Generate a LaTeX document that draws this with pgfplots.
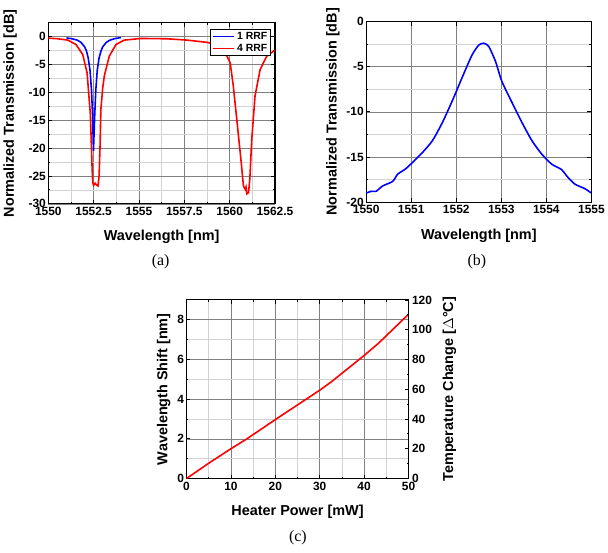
\documentclass[border=0pt]{standalone}
\usepackage{pgfplots}
\pgfplotsset{compat=1.18}
\usepackage{fontspec}
\setmainfont{Liberation Sans}
\newfontfamily\timesf{Liberation Serif}
\definecolor{majgrid}{RGB}{128,128,128}
\definecolor{mingrid}{RGB}{210,210,210}
\definecolor{myblue}{RGB}{0,0,255}
\definecolor{myred}{RGB}{255,0,0}
\pgfplotsset{
  mystyle/.style={
    scale only axis,
    axis line style={line width=1.1pt},
    grid=both,
    major grid style={majgrid,line width=0.6pt},
    minor grid style={mingrid,line width=0.6pt},
    tick style={black,line width=0.8pt},
    major tick length=4pt, minor tick length=2pt,
    tick align=inside,
    /pgf/number format/assume math mode=true,
    /pgf/number format/1000 sep={},
    ticklabel style={font=\bfseries\fontsize{12}{13}\selectfont},
    label style={font=\bfseries\fontsize{14.5}{16}\selectfont},
    xticklabel style={yshift=0pt},
    yticklabel style={xshift=1pt},
    xlabel style={yshift=-8pt},
  }
}
\begin{document}
\begin{tikzpicture}
\path (0pt,0pt) rectangle (608pt,-556pt);
% ---------- (a)
\begin{axis}[mystyle,
  at={(47pt,-205pt)}, anchor=south west,
  width=228pt, height=182pt,
  xmin=1550, xmax=1562.5, ymin=-30, ymax=2.5,
  xtick={1550,1552.5,1555,1557.5,1560,1562.5},
  xticklabels={1550,1552.5,1555,1557.5,1560,1562.5},
  ytick={-30,-25,-20,-15,-10,-5,0},
  minor x tick num=1, minor y tick num=1,
  xlabel={Wavelength [nm]}, ylabel={Normalized Transmission [dB]},
  ylabel style={yshift=5pt},
  legend style={at={(rel axis cs:0.982,0.967)}, anchor=north east, draw=black, line width=1.1pt,
    font=\bfseries\fontsize{10.5}{11}\selectfont, inner sep=1pt, row sep=-1pt},
  legend cell align=left,
  legend image code/.code={\draw[#1] (0pt,0pt) -- (22pt,0pt);},
]
\addplot[myblue, line width=1.6pt] coordinates {
(1551.0,-0.2) (1551.3,-0.35) (1551.6,-0.6) (1551.8,-1.0) (1552.0,-1.8) (1552.1,-2.5)
(1552.2,-3.8) (1552.3,-6.0) (1552.38,-9.5) (1552.44,-14) (1552.49,-20.5)
(1552.56,-14) (1552.62,-9.5) (1552.7,-6.0) (1552.8,-3.8) (1552.9,-2.6) (1553.0,-1.8)
(1553.2,-1.0) (1553.4,-0.6) (1553.7,-0.3) (1554.0,-0.15)};
\addlegendentry{1 RRF}
\addplot[myred, line width=1.6pt] coordinates {
(1550,-0.25) (1550.5,-0.35) (1551.08,-0.6) (1551.53,-1.4) (1551.9,-3.2) (1552.14,-6.5)
(1552.32,-14) (1552.42,-24) (1552.45,-26.2) (1552.5,-26.7) (1552.58,-26.3) (1552.66,-26.6)
(1552.74,-26.8) (1552.8,-25) (1552.85,-20) (1552.9,-13) (1553.0,-9.2) (1553.09,-7)
(1553.36,-3.5) (1553.73,-1.4) (1554.18,-0.6) (1555.1,-0.3) (1556.56,-0.36) (1557.66,-0.6)
(1558.75,-1.0) (1559.3,-1.4) (1559.7,-2.4) (1560.03,-4.7) (1560.2,-8.8) (1560.43,-16)
(1560.62,-22) (1560.76,-26.8) (1560.86,-27.4) (1560.9,-27.0) (1560.95,-28.2) (1561.04,-28.0)
(1561.11,-25.6) (1561.22,-18.4) (1561.4,-10.6) (1561.68,-5.9) (1562.04,-3.5) (1562.5,-2.4)};
\addlegendentry{4 RRF}
\end{axis}
% ---------- (b)
\begin{axis}[mystyle,
  at={(366.7pt,-203.3pt)}, anchor=south west,
  width=226.6pt, height=181.6pt,
  xmin=1550, xmax=1555, ymin=-20, ymax=0,
  xtick={1550,...,1555}, ytick={-20,-15,-10,-5,0},
  minor x tick num=1, minor y tick num=1,
  xlabel={Wavelength [nm]}, ylabel={Normalized Transmission [dB]},
]
\addplot[myblue, line width=1.6pt, smooth, tension=0.4] coordinates {
(1550,-19.0) (1550.11,-18.8) (1550.22,-18.8) (1550.37,-18.2) (1550.59,-17.7) (1550.7,-16.9)
(1550.88,-16.3) (1551.07,-15.4) (1551.25,-14.5) (1551.47,-13.2) (1551.69,-11.2) (1551.91,-8.8)
(1552.13,-6.2) (1552.35,-3.7) (1552.5,-2.6) (1552.61,-2.4) (1552.72,-2.75) (1552.87,-4.4)
(1553.01,-6.6) (1553.24,-9.0) (1553.46,-11.2) (1553.68,-13.2) (1553.9,-14.7) (1554.12,-15.8)
(1554.34,-16.4) (1554.45,-17.1) (1554.63,-18.0) (1554.85,-18.5) (1555,-19.0)};
\end{axis}
% ---------- (c)
\begin{axis}[mystyle,
  at={(186pt,-481.3pt)}, anchor=south west,
  width=223.3pt, height=179.6pt,
  xmin=0, xmax=50, ymin=0, ymax=9,
  xtick={0,10,...,50}, ytick={0,2,...,8},
  minor x tick num=1, minor y tick num=1,
  xlabel={Heater Power [mW]}, ylabel={Wavelength Shift [nm]},
  ytick pos=left,
]
\addplot[myred, line width=1.6pt] coordinates {
(0,0) (5,0.77) (10,1.5) (13.6,2.0) (20,2.97) (30,4.45) (32.6,4.87) (40,6.2) (43.3,6.83) (50,8.28)};
\end{axis}
\begin{axis}[mystyle,
  at={(186pt,-481.3pt)}, anchor=south west,
  width=223.3pt, height=179.6pt,
  xmin=0, xmax=50, ymin=0, ymax=120,
  grid=none, axis x line=none, axis y line*=right,
  ytick={0,20,...,120}, minor y tick num=1,
  yticklabel style={xshift=-1pt},
  ylabel={Temperature Change [$\Delta$°C]},
  ylabel style={font=\bfseries\fontsize{14.5}{16}\selectfont, yshift=-4pt},
]
\end{axis}
\node[font=\timesf\fontsize{16}{18}\selectfont] at (160pt,-263pt) {(a)};
\node[font=\timesf\fontsize{16}{18}\selectfont] at (478pt,-263pt) {(b)};
\node[font=\timesf\fontsize{16}{18}\selectfont] at (298pt,-541pt) {(c)};
\end{tikzpicture}
\end{document}
